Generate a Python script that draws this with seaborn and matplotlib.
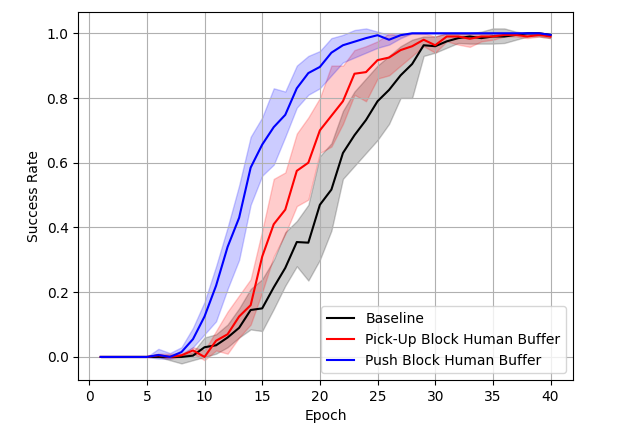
import numpy as np
import pandas
import matplotlib
matplotlib.use("Agg")
import matplotlib.pyplot as plt
import seaborn as sns

epochs = list(range(1, 41))

# Baseline
baseline_mean = [0, 0, 0, 0, 0, 0, 0, 0, 0.004, 0.03,
                 0.036, 0.06, 0.09, 0.145, 0.15, 0.215, 0.275, 0.355, 0.353, 0.47,
                 0.517, 0.63, 0.685, 0.732, 0.79, 0.825, 0.87, 0.905, 0.963, 0.96,
                 0.975, 0.985, 0.99, 0.985, 0.99, 0.99, 0.995, 1.0, 1.0, 0.995]
baseline_upper = [0, 0, 0, 0, 0, 0, 0.005, 0.005, 0.015, 0.06,
                  0.07, 0.1, 0.15, 0.21, 0.24, 0.30, 0.385, 0.42, 0.47, 0.62,
                  0.66, 0.76, 0.82, 0.86, 0.90, 0.93, 0.96, 0.98, 0.99, 0.99,
                  1.0, 1.0, 1.0, 1.005, 1.015, 1.015, 1.005, 1.0, 1.0, 1.0]
baseline_lower = [0, 0, 0, 0, 0, 0, -0.01, -0.02, -0.01, 0.0,
                  0.01, 0.03, 0.06, 0.085, 0.08, 0.148, 0.22, 0.28, 0.236, 0.30,
                  0.39, 0.55, 0.59, 0.63, 0.67, 0.72, 0.80, 0.80, 0.93, 0.94,
                  0.955, 0.97, 0.968, 0.968, 0.968, 0.97, 0.98, 0.99, 0.99, 0.985]

# Pick-Up Block Human Buffer
pickup_mean = [0, 0, 0, 0, 0, 0.005, 0.0, 0.005, 0.02, 0.0,
               0.05, 0.07, 0.125, 0.16, 0.31, 0.41, 0.455, 0.575, 0.60, 0.70,
               0.745, 0.79, 0.875, 0.88, 0.917, 0.925, 0.948, 0.96, 0.98, 0.963,
               0.99, 0.99, 0.983, 0.99, 0.99, 0.995, 0.995, 0.99, 0.995, 0.99]
pickup_upper = [0, 0, 0, 0, 0, 0.01, 0.01, 0.01, 0.03, 0.02,
                0.08, 0.14, 0.19, 0.24, 0.39, 0.55, 0.57, 0.69, 0.74, 0.80,
                0.90, 0.90, 0.948, 0.96, 0.975, 1.0, 0.99, 1.0, 1.0, 0.99,
                1.0, 1.0, 1.0, 1.0, 1.0, 1.0, 1.0, 1.0, 1.0, 1.0]
pickup_lower = [0, 0, 0, 0, 0, 0.0, -0.005, 0.0, 0.01, -0.01,
                0.02, 0.01, 0.06, 0.10, 0.20, 0.31, 0.38, 0.466, 0.486, 0.63,
                0.65, 0.72, 0.81, 0.79, 0.86, 0.87, 0.90, 0.93, 0.96, 0.94,
                0.975, 0.965, 0.958, 0.975, 0.98, 0.99, 0.99, 0.985, 0.99, 0.985]

# Push Block Human Buffer
push_mean = [0, 0, 0, 0, 0, 0.006, 0.0, 0.015, 0.055, 0.125,
             0.22, 0.34, 0.43, 0.585, 0.656, 0.71, 0.748, 0.83, 0.877, 0.896,
             0.94, 0.963, 0.974, 0.985, 0.994, 0.98, 0.994, 1.0, 1.0, 1.0,
             1.0, 1.0, 1.0, 1.0, 1.0, 1.0, 1.0, 1.0, 1.0, 0.995]
push_upper = [0, 0, 0, 0, 0, 0.025, 0.012, 0.03, 0.09, 0.17,
              0.28, 0.40, 0.53, 0.68, 0.74, 0.83, 0.82, 0.90, 0.93, 0.945,
              0.985, 0.995, 1.01, 1.015, 1.005, 0.995, 1.0, 1.0, 1.0, 1.0,
              1.0, 1.0, 1.0, 1.0, 1.0, 1.0, 1.0, 1.0, 1.0, 1.0]
push_lower = [0, 0, 0, 0, 0, -0.005, -0.005, 0.005, 0.03, 0.07,
              0.11, 0.21, 0.30, 0.47, 0.56, 0.594, 0.68, 0.77, 0.81, 0.83,
              0.87, 0.91, 0.925, 0.94, 0.955, 0.965, 0.985, 1.0, 1.0, 1.0,
              1.0, 1.0, 1.0, 1.0, 1.0, 1.0, 1.0, 1.0, 1.0, 0.99]

_series = [
    ("Baseline", "black", baseline_mean, baseline_lower, baseline_upper),
    ("Pick-Up Block Human Buffer", "red", pickup_mean, pickup_lower, pickup_upper),
    ("Push Block Human Buffer", "blue", push_mean, push_lower, push_upper),
]

fig, ax = plt.subplots(figsize=(6.36, 4.32), dpi=100)
fig.subplots_adjust(left=0.123, right=0.901, bottom=0.12, top=0.973)

for _name, _color, _mean, _lo, _hi in _series:
    _df = pandas.DataFrame({"Epoch": epochs, "Success Rate": _mean})
    sns.lineplot(data=_df, x="Epoch", y="Success Rate", color=_color, label=_name, ax=ax, linewidth=1.5)
    ax.fill_between(epochs, _lo, _hi, color=_color, alpha=0.2)

ax.grid(True)
ax.set_xlabel("Epoch")
ax.set_ylabel("Success Rate")
ax.legend(loc="lower right")
plt.savefig("out.png", dpi=100)
plt.close()
